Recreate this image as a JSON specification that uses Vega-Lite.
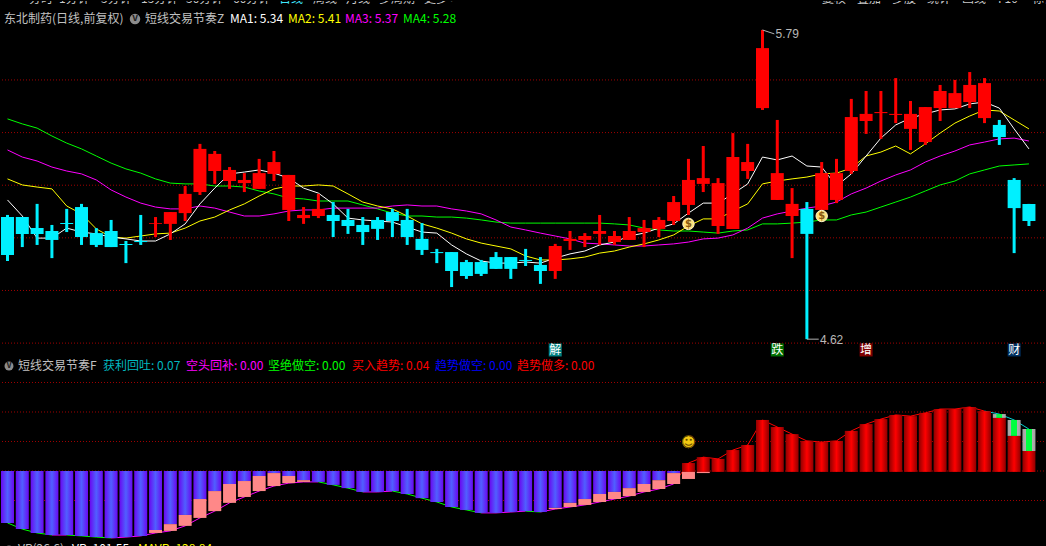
{"$schema":"https://vega.github.io/schema/vega-lite/v6.json","background":"#000000","padding":0,"spacing":0,"bounds":"flush","config":{"view":{"stroke":null},"axis":{"disable":true},"text":{"font":"Noto Sans CJK SC","fontSize":12,"align":"left","baseline":"middle"}},
"datasets":{"candles":[
{"i":0,"open":5.079,"close":4.935,"high":5.087,"low":4.912,"ma1":5.144,"ma2":5.224,"ma3":5.334,"ma4":5.452},
{"i":1,"open":5.079,"close":5.015,"high":5.079,"low":4.965,"ma1":5.083,"ma2":5.201,"ma3":5.307,"ma4":5.433},
{"i":2,"open":5.037,"close":5.015,"high":5.129,"low":4.973,"ma1":4.999,"ma2":5.193,"ma3":5.292,"ma4":5.417},
{"i":3,"open":5.026,"close":4.992,"high":5.049,"low":4.923,"ma1":4.999,"ma2":5.186,"ma3":5.269,"ma4":5.387},
{"i":4,"open":5.056,"close":5.053,"high":5.11,"low":5.022,"ma1":5.037,"ma2":5.121,"ma3":5.254,"ma4":5.36},
{"i":5,"open":5.117,"close":5.003,"high":5.129,"low":4.973,"ma1":5.022,"ma2":5.091,"ma3":5.243,"ma4":5.338},
{"i":6,"open":5.018,"close":4.973,"high":5.037,"low":4.965,"ma1":5.015,"ma2":5.034,"ma3":5.22,"ma4":5.311},
{"i":7,"open":5.026,"close":4.965,"high":5.068,"low":4.965,"ma1":5.003,"ma2":5.003,"ma3":5.182,"ma4":5.284},
{"i":8,"open":4.977,"close":4.973,"high":4.988,"low":4.904,"ma1":4.996,"ma2":4.999,"ma3":5.155,"ma4":5.262},
{"i":9,"open":4.988,"close":4.984,"high":5.087,"low":4.973,"ma1":4.988,"ma2":5.007,"ma3":5.132,"ma4":5.246},
{"i":10,"open":5.053,"close":5.056,"high":5.079,"low":5.003,"ma1":4.988,"ma2":5.015,"ma3":5.117,"ma4":5.224},
{"i":11,"open":5.053,"close":5.098,"high":5.098,"low":4.992,"ma1":5.015,"ma2":5.018,"ma3":5.11,"ma4":5.208},
{"i":12,"open":5.094,"close":5.167,"high":5.197,"low":5.064,"ma1":5.053,"ma2":5.037,"ma3":5.11,"ma4":5.205},
{"i":13,"open":5.174,"close":5.338,"high":5.357,"low":5.163,"ma1":5.129,"ma2":5.064,"ma3":5.121,"ma4":5.205},
{"i":14,"open":5.254,"close":5.319,"high":5.33,"low":5.205,"ma1":5.189,"ma2":5.079,"ma3":5.113,"ma4":5.197},
{"i":15,"open":5.216,"close":5.258,"high":5.269,"low":5.186,"ma1":5.243,"ma2":5.106,"ma3":5.098,"ma4":5.197},
{"i":16,"open":5.208,"close":5.22,"high":5.246,"low":5.174,"ma1":5.25,"ma2":5.129,"ma3":5.083,"ma4":5.193},
{"i":17,"open":5.186,"close":5.246,"high":5.3,"low":5.186,"ma1":5.258,"ma2":5.159,"ma3":5.083,"ma4":5.178},
{"i":18,"open":5.243,"close":5.288,"high":5.33,"low":5.216,"ma1":5.246,"ma2":5.186,"ma3":5.091,"ma4":5.167},
{"i":19,"open":5.106,"close":5.239,"high":5.239,"low":5.064,"ma1":5.227,"ma2":5.197,"ma3":5.102,"ma4":5.151},
{"i":20,"open":5.075,"close":5.087,"high":5.117,"low":5.053,"ma1":5.189,"ma2":5.197,"ma3":5.106,"ma4":5.148},
{"i":21,"open":5.083,"close":5.11,"high":5.167,"low":5.075,"ma1":5.17,"ma2":5.201,"ma3":5.106,"ma4":5.14},
{"i":22,"open":5.087,"close":5.064,"high":5.136,"low":5.003,"ma1":5.129,"ma2":5.197,"ma3":5.113,"ma4":5.14},
{"i":23,"open":5.068,"close":5.045,"high":5.11,"low":5.015,"ma1":5.075,"ma2":5.167,"ma3":5.113,"ma4":5.14},
{"i":24,"open":5.049,"close":5.022,"high":5.079,"low":4.973,"ma1":5.068,"ma2":5.136,"ma3":5.113,"ma4":5.125},
{"i":25,"open":5.068,"close":5.034,"high":5.079,"low":4.992,"ma1":5.064,"ma2":5.121,"ma3":5.113,"ma4":5.11},
{"i":26,"open":5.098,"close":5.064,"high":5.11,"low":5.003,"ma1":5.06,"ma2":5.11,"ma3":5.121,"ma4":5.094},
{"i":27,"open":5.068,"close":5.003,"high":5.11,"low":4.973,"ma1":5.041,"ma2":5.083,"ma3":5.125,"ma4":5.083},
{"i":28,"open":4.996,"close":4.954,"high":5.056,"low":4.935,"ma1":5.022,"ma2":5.053,"ma3":5.121,"ma4":5.083},
{"i":29,"open":4.946,"close":4.942,"high":4.958,"low":4.904,"ma1":5.018,"ma2":5.037,"ma3":5.121,"ma4":5.079},
{"i":30,"open":4.946,"close":4.874,"high":4.946,"low":4.813,"ma1":4.973,"ma2":5.018,"ma3":5.11,"ma4":5.079},
{"i":31,"open":4.908,"close":4.855,"high":4.916,"low":4.844,"ma1":4.939,"ma2":4.996,"ma3":5.102,"ma4":5.075},
{"i":32,"open":4.908,"close":4.863,"high":4.916,"low":4.855,"ma1":4.912,"ma2":4.98,"ma3":5.091,"ma4":5.068},
{"i":33,"open":4.927,"close":4.882,"high":4.946,"low":4.882,"ma1":4.904,"ma2":4.969,"ma3":5.068,"ma4":5.06},
{"i":34,"open":4.927,"close":4.882,"high":4.927,"low":4.844,"ma1":4.904,"ma2":4.958,"ma3":5.041,"ma4":5.056},
{"i":35,"open":4.916,"close":4.912,"high":4.958,"low":4.893,"ma1":4.908,"ma2":4.931,"ma3":5.03,"ma4":5.056},
{"i":36,"open":4.897,"close":4.874,"high":4.927,"low":4.825,"ma1":4.904,"ma2":4.916,"ma3":5.018,"ma4":5.056},
{"i":37,"open":4.874,"close":4.969,"high":4.977,"low":4.844,"ma1":4.923,"ma2":4.916,"ma3":5.007,"ma4":5.056},
{"i":38,"open":4.988,"close":4.996,"high":5.026,"low":4.954,"ma1":4.939,"ma2":4.92,"ma3":4.996,"ma4":5.056},
{"i":39,"open":4.992,"close":5.007,"high":5.018,"low":4.965,"ma1":4.95,"ma2":4.927,"ma3":4.98,"ma4":5.056},
{"i":40,"open":5.015,"close":5.026,"high":5.087,"low":4.973,"ma1":4.973,"ma2":4.942,"ma3":4.977,"ma4":5.056},
{"i":41,"open":4.984,"close":5.007,"high":5.026,"low":4.973,"ma1":4.984,"ma2":4.95,"ma3":4.973,"ma4":5.053},
{"i":42,"open":4.992,"close":5.026,"high":5.079,"low":4.992,"ma1":5.007,"ma2":4.965,"ma3":4.969,"ma4":5.049},
{"i":43,"open":5.022,"close":5.037,"high":5.068,"low":4.965,"ma1":5.018,"ma2":4.977,"ma3":4.969,"ma4":5.037},
{"i":44,"open":5.034,"close":5.068,"high":5.079,"low":5.003,"ma1":5.037,"ma2":4.992,"ma3":4.973,"ma4":5.03},
{"i":45,"open":5.064,"close":5.136,"high":5.159,"low":5.049,"ma1":5.053,"ma2":5.011,"ma3":4.977,"ma4":5.026},
{"i":46,"open":5.125,"close":5.22,"high":5.3,"low":5.087,"ma1":5.094,"ma2":5.045,"ma3":4.984,"ma4":5.026},
{"i":47,"open":5.205,"close":5.227,"high":5.349,"low":5.174,"ma1":5.132,"ma2":5.072,"ma3":4.996,"ma4":5.022},
{"i":48,"open":5.045,"close":5.208,"high":5.227,"low":5.015,"ma1":5.132,"ma2":5.072,"ma3":4.999,"ma4":5.018},
{"i":49,"open":5.034,"close":5.307,"high":5.398,"low":5.034,"ma1":5.167,"ma2":5.102,"ma3":5.011,"ma4":5.026},
{"i":50,"open":5.254,"close":5.288,"high":5.357,"low":5.224,"ma1":5.205,"ma2":5.129,"ma3":5.037,"ma4":5.03},
{"i":51,"open":5.493,"close":5.721,"high":5.79,"low":5.486,"ma1":5.307,"ma2":5.205,"ma3":5.075,"ma4":5.053},
{"i":52,"open":5.144,"close":5.246,"high":5.448,"low":5.144,"ma1":5.296,"ma2":5.216,"ma3":5.091,"ma4":5.053},
{"i":53,"open":5.083,"close":5.129,"high":5.189,"low":4.923,"ma1":5.311,"ma2":5.224,"ma3":5.102,"ma4":5.056},
{"i":54,"open":5.11,"close":5.015,"high":5.136,"low":4.615,"ma1":5.273,"ma2":5.231,"ma3":5.113,"ma4":5.06},
{"i":55,"open":5.106,"close":5.246,"high":5.288,"low":5.106,"ma1":5.269,"ma2":5.243,"ma3":5.121,"ma4":5.068},
{"i":56,"open":5.144,"close":5.246,"high":5.3,"low":5.132,"ma1":5.197,"ma2":5.246,"ma3":5.136,"ma4":5.068},
{"i":57,"open":5.254,"close":5.459,"high":5.528,"low":5.243,"ma1":5.243,"ma2":5.265,"ma3":5.167,"ma4":5.087},
{"i":58,"open":5.444,"close":5.471,"high":5.558,"low":5.395,"ma1":5.311,"ma2":5.311,"ma3":5.189,"ma4":5.098},
{"i":59,"open":5.474,"close":5.478,"high":5.558,"low":5.376,"ma1":5.379,"ma2":5.326,"ma3":5.216,"ma4":5.117},
{"i":60,"open":5.467,"close":5.471,"high":5.607,"low":5.436,"ma1":5.429,"ma2":5.349,"ma3":5.239,"ma4":5.136},
{"i":61,"open":5.414,"close":5.471,"high":5.52,"low":5.334,"ma1":5.455,"ma2":5.319,"ma3":5.258,"ma4":5.155},
{"i":62,"open":5.364,"close":5.497,"high":5.497,"low":5.353,"ma1":5.471,"ma2":5.357,"ma3":5.288,"ma4":5.178},
{"i":63,"open":5.493,"close":5.558,"high":5.581,"low":5.444,"ma1":5.486,"ma2":5.398,"ma3":5.311,"ma4":5.201},
{"i":64,"open":5.493,"close":5.55,"high":5.6,"low":5.493,"ma1":5.49,"ma2":5.436,"ma3":5.33,"ma4":5.216},
{"i":65,"open":5.516,"close":5.581,"high":5.63,"low":5.493,"ma1":5.509,"ma2":5.463,"ma3":5.353,"ma4":5.243},
{"i":66,"open":5.455,"close":5.588,"high":5.607,"low":5.436,"ma1":5.516,"ma2":5.486,"ma3":5.364,"ma4":5.258},
{"i":67,"open":5.429,"close":5.383,"high":5.448,"low":5.353,"ma1":5.493,"ma2":5.482,"ma3":5.376,"ma4":5.273},
{"i":68,"open":5.22,"close":5.113,"high":5.227,"low":4.942,"ma1":5.414,"ma2":5.448,"ma3":5.379,"ma4":5.277},
{"i":69,"open":5.129,"close":5.064,"high":5.129,"low":5.045,"ma1":5.338,"ma2":5.414,"ma3":5.368,"ma4":5.281}],
"rhythm":[
{"i":0,"v":-0.176,"t":-0.176},{"i":1,"v":-0.197,"t":-0.197},{"i":2,"v":-0.21,"t":-0.21},{"i":3,"v":-0.217,"t":-0.217},{"i":4,"v":-0.217,"t":-0.217},{"i":5,"v":-0.22,"t":-0.22},{"i":6,"v":-0.224,"t":-0.224},{"i":7,"v":-0.227,"t":-0.227},{"i":8,"v":-0.224,"t":-0.224},{"i":9,"v":-0.22,"t":-0.22},
{"i":10,"v":-0.2,"pinkTop":-0.2,"pinkEnd":-0.21,"t":-0.21},{"i":11,"v":-0.18,"pinkTop":-0.18,"pinkEnd":-0.203,"t":-0.203},{"i":12,"v":-0.149,"pinkTop":-0.149,"pinkEnd":-0.186,"t":-0.186},{"i":13,"v":-0.095,"pinkTop":-0.095,"pinkEnd":-0.159,"t":-0.159},{"i":14,"v":-0.068,"pinkTop":-0.068,"pinkEnd":-0.136,"t":-0.136},{"i":15,"v":-0.044,"pinkTop":-0.044,"pinkEnd":-0.108,"t":-0.108},{"i":16,"v":-0.034,"pinkTop":-0.034,"pinkEnd":-0.088,"t":-0.088},{"i":17,"v":-0.017,"pinkTop":-0.017,"pinkEnd":-0.068,"t":-0.068},{"i":18,"v":-0.007,"pinkTop":-0.007,"pinkEnd":-0.051,"t":-0.051},{"i":19,"v":-0.017,"pinkTop":-0.017,"pinkEnd":-0.041,"t":-0.041},{"i":20,"v":-0.031,"pinkTop":-0.031,"pinkEnd":-0.037,"t":-0.037},
{"i":21,"v":-0.037,"t":-0.037},{"i":22,"v":-0.047,"t":-0.047},{"i":23,"v":-0.058,"t":-0.058},{"i":24,"v":-0.071,"t":-0.071},{"i":25,"v":-0.071,"t":-0.071},{"i":26,"v":-0.068,"t":-0.068},{"i":27,"v":-0.078,"t":-0.078},{"i":28,"v":-0.092,"t":-0.092},{"i":29,"v":-0.105,"t":-0.105},{"i":30,"v":-0.122,"t":-0.122},{"i":31,"v":-0.132,"t":-0.132},{"i":32,"v":-0.142,"t":-0.142},{"i":33,"v":-0.142,"t":-0.142},{"i":34,"v":-0.139,"t":-0.139},{"i":35,"v":-0.136,"t":-0.136},{"i":36,"v":-0.139,"t":-0.139},
{"i":37,"v":-0.125,"pinkTop":-0.125,"pinkEnd":-0.129,"t":-0.129},{"i":38,"v":-0.108,"pinkTop":-0.108,"pinkEnd":-0.122,"t":-0.122},{"i":39,"v":-0.095,"pinkTop":-0.095,"pinkEnd":-0.115,"t":-0.115},{"i":40,"v":-0.078,"pinkTop":-0.078,"pinkEnd":-0.105,"t":-0.105},{"i":41,"v":-0.071,"pinkTop":-0.071,"pinkEnd":-0.095,"t":-0.095},{"i":42,"v":-0.058,"pinkTop":-0.058,"pinkEnd":-0.085,"t":-0.085},{"i":43,"v":-0.044,"pinkTop":-0.044,"pinkEnd":-0.071,"t":-0.071},{"i":44,"v":-0.031,"pinkTop":-0.031,"pinkEnd":-0.061,"t":-0.061},{"i":45,"v":-0.007,"pinkTop":-0.007,"pinkEnd":-0.044,"t":-0.044},{"i":46,"v":0.027,"pinkTop":-0.003,"pinkEnd":-0.027,"t":0.027},{"i":47,"v":0.047,"pinkTop":-0.003,"pinkEnd":-0.007,"t":0.047},
{"i":48,"v":0.041,"t":0.041},{"i":49,"v":0.071,"t":0.071},{"i":50,"v":0.088,"t":0.088},{"i":51,"v":0.173,"t":0.173},{"i":52,"v":0.149,"t":0.149},{"i":53,"v":0.125,"t":0.125},{"i":54,"v":0.102,"t":0.102},{"i":55,"v":0.098,"t":0.098},{"i":56,"v":0.102,"t":0.102},{"i":57,"v":0.136,"t":0.136},{"i":58,"v":0.159,"t":0.159},{"i":59,"v":0.176,"t":0.176},{"i":60,"v":0.19,"t":0.19},{"i":61,"v":0.186,"t":0.186},{"i":62,"v":0.197,"t":0.197},{"i":63,"v":0.21,"t":0.21},{"i":64,"v":0.21,"t":0.21},{"i":65,"v":0.217,"t":0.217},{"i":66,"v":0.203,"t":0.203},
{"i":67,"v":0.18,"g":0.193,"t":0.193},{"i":68,"v":0.119,"g":0.173,"t":0.173},{"i":69,"v":0.068,"g":0.142,"t":0.142}]},
"vconcat":[
{"width":1046,"height":356,"layer":[
{"data":{"values":[{"p":4.6},{"p":4.8},{"p":5.0},{"p":5.2},{"p":5.4},{"p":5.6}]},"mark":{"type":"rule","color":"#a00000","strokeDash":[1,2]},"encoding":{"y":{"field":"p","type":"quantitative","scale":{"domain":[4.5472,5.9],"nice":false,"zero":false}}}},
{"encoding":{"x":{"field":"i","type":"quantitative","scale":{"domain":[-0.439,70.22],"nice":false,"zero":false,"padding":0}}},"layer":[
{"data":{"name":"candles"},"mark":{"type":"line","color":"#00ff00","strokeWidth":1},"encoding":{"y":{"field":"ma4","type":"quantitative","scale":{"domain":[4.5472,5.9],"nice":false,"zero":false}}}},
{"data":{"name":"candles"},"mark":{"type":"line","color":"#ff00ff","strokeWidth":1},"encoding":{"y":{"field":"ma3","type":"quantitative","scale":{"domain":[4.5472,5.9],"nice":false,"zero":false}}}},
{"data":{"name":"candles"},"mark":{"type":"line","color":"#ffff00","strokeWidth":1},"encoding":{"y":{"field":"ma2","type":"quantitative","scale":{"domain":[4.5472,5.9],"nice":false,"zero":false}}}},
{"data":{"name":"candles"},"mark":{"type":"line","color":"#ffffff","strokeWidth":1},"encoding":{"y":{"field":"ma1","type":"quantitative","scale":{"domain":[4.5472,5.9],"nice":false,"zero":false}}}},
{"data":{"name":"candles"},"mark":{"type":"rule","strokeWidth":3},"encoding":{"y":{"field":"high","type":"quantitative","scale":{"domain":[4.5472,5.9],"nice":false,"zero":false}},"y2":{"field":"low"},"color":{"condition":{"test":"datum.close>=datum.open","value":"#ff0000"},"value":"#00f0ff"}}},
{"data":{"name":"candles"},"mark":{"type":"bar","width":13,"orient":"vertical"},"encoding":{"y":{"field":"open","type":"quantitative","scale":{"domain":[4.5472,5.9],"nice":false,"zero":false}},"y2":{"field":"close"},"color":{"condition":{"test":"datum.close>=datum.open","value":"#ff0000"},"value":"#00f0ff"}}},
{"data":{"values":[{"i":46,"price":5.053},{"i":55,"price":5.083}]},"mark":{"type":"point","filled":true,"shape":"circle","size":130,"color":"#ffe27a","stroke":"#fff6c8","strokeWidth":1,"opacity":1},"encoding":{"y":{"field":"price","type":"quantitative","scale":{"domain":[4.5472,5.9],"nice":false,"zero":false}}}},
{"data":{"values":[{"i":46,"price":5.053,"sign":"$"},{"i":55,"price":5.083,"sign":"$"}]},"mark":{"type":"text","align":"center","color":"#8a5a10","fontSize":10,"fontWeight":"bold","font":"DejaVu Sans"},"encoding":{"y":{"field":"price","type":"quantitative","scale":{"domain":[4.5472,5.9],"nice":false,"zero":false}},"text":{"field":"sign"}}},
{"data":{"values":[{"i":51,"to":51.8,"price":5.79,"priceTo":5.775},{"i":54,"to":54.8,"price":4.615,"priceTo":4.615}]},"mark":{"type":"rule","color":"#b0b0b0","strokeWidth":1},"encoding":{"x2":{"field":"to"},"y":{"field":"price","type":"quantitative","scale":{"domain":[4.5472,5.9],"nice":false,"zero":false}},"y2":{"field":"priceTo"}}},
{"data":{"values":[{"i":51,"price":5.775,"label":"5.79"},{"i":54,"price":4.612,"label":"4.62"}]},"mark":{"type":"text","color":"#b8b8b8","fontSize":12,"font":"Liberation Sans","dx":13},"encoding":{"y":{"field":"price","type":"quantitative","scale":{"domain":[4.5472,5.9],"nice":false,"zero":false}},"text":{"field":"label"}}},
{"data":{"values":[{"i":37,"price":4.574,"name":"解"},{"i":52,"price":4.574,"name":"跌"},{"i":58,"price":4.574,"name":"增"},{"i":68,"price":4.574,"name":"财"}]},"mark":{"type":"square","size":169,"opacity":1},"encoding":{"y":{"field":"price","type":"quantitative","scale":{"domain":[4.5472,5.9],"nice":false,"zero":false}},"color":{"field":"name","type":"nominal","legend":null,"scale":{"domain":["解","跌","增","财"],"range":["#008080","#007000","#800000","#003060"]}}}},
{"data":{"values":[{"i":37,"price":4.574,"name":"解"},{"i":52,"price":4.574,"name":"跌"},{"i":58,"price":4.574,"name":"增"},{"i":68,"price":4.574,"name":"财"}]},"mark":{"type":"text","align":"center","color":"#ffffff","fontSize":12},"encoding":{"y":{"field":"price","type":"quantitative","scale":{"domain":[4.5472,5.9],"nice":false,"zero":false}},"text":{"field":"name"}}}
]},
{"data":{"values":[{}]},"mark":{"type":"rule","color":"#c00000","x":0,"x2":1046,"y":8.5,"y2":8.5},"encoding":{}},
{"data":{"values":[{}]},"mark":{"type":"rule","color":"#c00000","x":24.5,"x2":24.5,"y":0,"y2":8},"encoding":{}},
{"data":{"values":[{}]},"mark":{"type":"rule","color":"#909090","x":5,"x2":18,"y":1.5,"y2":1.5,"strokeWidth":2},"encoding":{}},
{"data":{"values":[{}]},"mark":{"type":"rule","color":"#c00000","x":816.5,"x2":816.5,"y":0,"y2":8},"encoding":{}},
{"data":{"values":[{}]},"mark":{"type":"rule","color":"#c00000","x":850.5,"x2":850.5,"y":0,"y2":8},"encoding":{}},
{"data":{"values":[{}]},"mark":{"type":"rule","color":"#c00000","x":885.5,"x2":885.5,"y":0,"y2":8},"encoding":{}},
{"data":{"values":[{}]},"mark":{"type":"rule","color":"#c00000","x":920.5,"x2":920.5,"y":0,"y2":8},"encoding":{}},
{"data":{"values":[{}]},"mark":{"type":"rule","color":"#c00000","x":955.5,"x2":955.5,"y":0,"y2":8},"encoding":{}},
{"data":{"values":[{}]},"mark":{"type":"rule","color":"#c00000","x":990.5,"x2":990.5,"y":0,"y2":8},"encoding":{}},
{"data":{"values":[{}]},"mark":{"type":"rule","color":"#c00000","x":1025.5,"x2":1025.5,"y":0,"y2":8},"encoding":{}},
{"data":{"values":[{}]},"mark":{"type":"text","text":"分时","x":28,"y":5,"baseline":"bottom","color":"#c8c8c8","clip":true},"encoding":{}},
{"data":{"values":[{}]},"mark":{"type":"text","text":"1分钟","x":58,"y":5,"baseline":"bottom","color":"#c8c8c8","clip":true},"encoding":{}},
{"data":{"values":[{}]},"mark":{"type":"text","text":"5分钟","x":100,"y":5,"baseline":"bottom","color":"#c8c8c8","clip":true},"encoding":{}},
{"data":{"values":[{}]},"mark":{"type":"text","text":"15分钟","x":140,"y":5,"baseline":"bottom","color":"#c8c8c8","clip":true},"encoding":{}},
{"data":{"values":[{}]},"mark":{"type":"text","text":"30分钟","x":185,"y":5,"baseline":"bottom","color":"#c8c8c8","clip":true},"encoding":{}},
{"data":{"values":[{}]},"mark":{"type":"text","text":"60分钟","x":232,"y":5,"baseline":"bottom","color":"#c8c8c8","clip":true},"encoding":{}},
{"data":{"values":[{}]},"mark":{"type":"text","text":"日线","x":278,"y":5,"baseline":"bottom","color":"#40e8ff","clip":true},"encoding":{}},
{"data":{"values":[{}]},"mark":{"type":"text","text":"周线","x":312,"y":5,"baseline":"bottom","color":"#c8c8c8","clip":true},"encoding":{}},
{"data":{"values":[{}]},"mark":{"type":"text","text":"月线","x":345,"y":5,"baseline":"bottom","color":"#c8c8c8","clip":true},"encoding":{}},
{"data":{"values":[{}]},"mark":{"type":"text","text":"多周期","x":378,"y":5,"baseline":"bottom","color":"#c8c8c8","clip":true},"encoding":{}},
{"data":{"values":[{}]},"mark":{"type":"text","text":"更多 >","x":423,"y":5,"baseline":"bottom","color":"#c8c8c8","clip":true},"encoding":{}},
{"data":{"values":[{}]},"mark":{"type":"text","text":"复权","x":821,"y":5,"baseline":"bottom","color":"#c8c8c8","clip":true},"encoding":{}},
{"data":{"values":[{}]},"mark":{"type":"text","text":"叠加","x":856,"y":5,"baseline":"bottom","color":"#c8c8c8","clip":true},"encoding":{}},
{"data":{"values":[{}]},"mark":{"type":"text","text":"多股","x":891,"y":5,"baseline":"bottom","color":"#c8c8c8","clip":true},"encoding":{}},
{"data":{"values":[{}]},"mark":{"type":"text","text":"统计","x":926,"y":5,"baseline":"bottom","color":"#c8c8c8","clip":true},"encoding":{}},
{"data":{"values":[{}]},"mark":{"type":"text","text":"画线","x":961,"y":5,"baseline":"bottom","color":"#c8c8c8","clip":true},"encoding":{}},
{"data":{"values":[{}]},"mark":{"type":"text","text":"F10","x":997,"y":5,"baseline":"bottom","color":"#c8c8c8","clip":true},"encoding":{}},
{"data":{"values":[{}]},"mark":{"type":"text","text":"标记","x":1031,"y":5,"baseline":"bottom","color":"#c8c8c8","clip":true},"encoding":{}},
{"data":{"values":[{}]},"mark":{"type":"text","text":"东北制药(日线,前复权)","x":3,"y":18,"color":"#c0c0c0"},"encoding":{}},
{"data":{"values":[{}]},"mark":{"type":"point","filled":true,"shape":"circle","size":110,"color":"#8c8c8c","opacity":1,"x":134,"y":18},"encoding":{}},
{"data":{"values":[{}]},"mark":{"type":"text","text":"v","x":134,"y":17,"align":"center","fontSize":10,"fontWeight":"bold","color":"#202020"},"encoding":{}},
{"data":{"values":[{}]},"mark":{"type":"text","text":"短线交易节奏Z","x":144,"y":18,"color":"#c0c0c0"},"encoding":{}},
{"data":{"values":[{}]},"mark":{"type":"text","text":"MA1: 5.34","x":229,"y":18,"color":"#ffffff"},"encoding":{}},
{"data":{"values":[{}]},"mark":{"type":"text","text":"MA2: 5.41","x":287,"y":18,"color":"#ffff00"},"encoding":{}},
{"data":{"values":[{}]},"mark":{"type":"text","text":"MA3: 5.37","x":344,"y":18,"color":"#ff00ff"},"encoding":{}},
{"data":{"values":[{}]},"mark":{"type":"text","text":"MA4: 5.28","x":402,"y":18,"color":"#00ff00"},"encoding":{}}
]},
{"width":1046,"height":190,"layer":[
{"data":{"values":[{"p":-0.1},{"p":0},{"p":0.1},{"p":0.2},{"p":0.3}]},"mark":{"type":"rule","color":"#a00000","strokeDash":[1,2]},"encoding":{"y":{"field":"p","type":"quantitative","scale":{"domain":[-0.2576,0.3864],"nice":false,"zero":false}}}},
{"encoding":{"x":{"field":"i","type":"quantitative","scale":{"domain":[-0.439,70.22],"nice":false,"zero":false,"padding":0}}},"layer":[
{"data":{"name":"rhythm"},"transform":[{"window":[{"op":"lag","field":"t","as":"prevT"},{"op":"lag","field":"i","as":"prevI"}],"sort":[{"field":"i"}]},{"filter":"datum.prevI!=null"}],"mark":{"type":"rule","strokeWidth":1},"encoding":{"x2":{"field":"prevI"},"y":{"field":"t","type":"quantitative","scale":{"domain":[-0.2576,0.3864],"nice":false,"zero":false}},"y2":{"field":"prevT"},"color":{"condition":[{"test":"datum.i>=67","value":"#00d0d0"},{"test":"datum.t>=0","value":"#ff0000"},{"test":"datum.t<datum.prevT","value":"#00ff00"}],"value":"#ff00ff"}}},
{"data":{"name":"rhythm"},"transform":[{"filter":"datum.v<0"}],"mark":{"type":"bar","width":13,"orient":"vertical","color":{"gradient":"linear","x1":0,"y1":0,"x2":1,"y2":0,"stops":[{"offset":0,"color":"#6a08f0"},{"offset":0.5,"color":"#5060ff"},{"offset":1,"color":"#6a08f0"}]}},"encoding":{"y":{"field":"v","type":"quantitative","scale":{"domain":[-0.2576,0.3864],"nice":false,"zero":false}},"y2":{"datum":0}}},
{"data":{"name":"rhythm"},"transform":[{"filter":"datum.v>0"}],"mark":{"type":"bar","width":13,"orient":"vertical","color":{"gradient":"linear","x1":0,"y1":0,"x2":1,"y2":0,"stops":[{"offset":0,"color":"#900000"},{"offset":0.5,"color":"#ff0000"},{"offset":1,"color":"#900000"}]}},"encoding":{"y":{"field":"v","type":"quantitative","scale":{"domain":[-0.2576,0.3864],"nice":false,"zero":false}},"y2":{"datum":-0.003}}},
{"data":{"name":"rhythm"},"transform":[{"filter":"datum.g!=null"}],"mark":{"type":"bar","width":13,"orient":"vertical","color":{"gradient":"linear","x1":0,"y1":0,"x2":1,"y2":0,"stops":[{"offset":0,"color":"#a0a0a0"},{"offset":0.25,"color":"#b0b0b0"},{"offset":0.3,"color":"#00ff40"},{"offset":0.7,"color":"#00ff40"},{"offset":0.75,"color":"#b0b0b0"},{"offset":1,"color":"#a0a0a0"}]}},"encoding":{"y":{"field":"v","type":"quantitative","scale":{"domain":[-0.2576,0.3864],"nice":false,"zero":false}},"y2":{"field":"g"}}},
{"data":{"name":"rhythm"},"transform":[{"filter":"datum.pinkEnd!=null"}],"mark":{"type":"bar","width":13,"orient":"vertical","color":"#ff8888"},"encoding":{"y":{"field":"pinkTop","type":"quantitative","scale":{"domain":[-0.2576,0.3864],"nice":false,"zero":false}},"y2":{"field":"pinkEnd"}}},
{"data":{"values":[{"i":46,"v":0.098}]},"mark":{"type":"point","filled":true,"shape":"circle","size":154,"color":"#f2c811","opacity":1},"encoding":{"y":{"field":"v","type":"quantitative","scale":{"domain":[-0.2576,0.3864],"nice":false,"zero":false}}}},
{"data":{"values":[{"i":46,"v":0.098,"face":"☺"}]},"mark":{"type":"text","align":"center","font":"DejaVu Sans","fontSize":15,"color":"#6a4a00"},"encoding":{"y":{"field":"v","type":"quantitative","scale":{"domain":[-0.2576,0.3864],"nice":false,"zero":false}},"text":{"field":"face"}}}
]},
{"data":{"values":[{}]},"mark":{"type":"rule","color":"#c00000","x":0,"x2":1046,"y":0.5,"y2":0.5},"encoding":{}},
{"data":{"values":[{}]},"mark":{"type":"rule","color":"#c00000","x":0,"x2":1046,"y":183.5,"y2":183.5},"encoding":{}},
{"data":{"values":[{}]},"mark":{"type":"point","filled":true,"shape":"circle","size":80,"color":"#8c8c8c","opacity":1,"x":8,"y":9},"encoding":{}},
{"data":{"values":[{}]},"mark":{"type":"text","text":"v","x":8,"y":8,"align":"center","fontSize":9,"fontWeight":"bold","color":"#202020"},"encoding":{}},
{"data":{"values":[{}]},"mark":{"type":"text","text":"短线交易节奏F","x":17,"y":9,"color":"#c0c0c0"},"encoding":{}},
{"data":{"values":[{}]},"mark":{"type":"text","text":"获利回吐: 0.07","x":102,"y":9,"color":"#00b8c0"},"encoding":{}},
{"data":{"values":[{}]},"mark":{"type":"text","text":"空头回补: 0.00","x":185,"y":9,"color":"#ff00ff"},"encoding":{}},
{"data":{"values":[{}]},"mark":{"type":"text","text":"坚绝做空: 0.00","x":267,"y":9,"color":"#00ff00"},"encoding":{}},
{"data":{"values":[{}]},"mark":{"type":"text","text":"买入趋势: 0.04","x":351,"y":9,"color":"#ff0000"},"encoding":{}},
{"data":{"values":[{}]},"mark":{"type":"text","text":"趋势做空: 0.00","x":434,"y":9,"color":"#0000ff"},"encoding":{}},
{"data":{"values":[{}]},"mark":{"type":"text","text":"趋势做多: 0.00","x":516,"y":9,"color":"#ff0000"},"encoding":{}},
{"data":{"values":[{}]},"mark":{"type":"point","filled":true,"shape":"circle","size":80,"color":"#8c8c8c","opacity":1,"x":8,"y":193,"clip":true},"encoding":{}},
{"data":{"values":[{}]},"mark":{"type":"text","text":"VR(26,6)","x":17,"y":192,"color":"#c0c0c0","clip":true},"encoding":{}},
{"data":{"values":[{}]},"mark":{"type":"text","text":"VR: 101.55","x":71,"y":192,"color":"#ffffff","clip":true},"encoding":{}},
{"data":{"values":[{}]},"mark":{"type":"text","text":"MAVR: 128.84","x":137,"y":192,"color":"#ffff00","clip":true},"encoding":{}}
]}
]}
